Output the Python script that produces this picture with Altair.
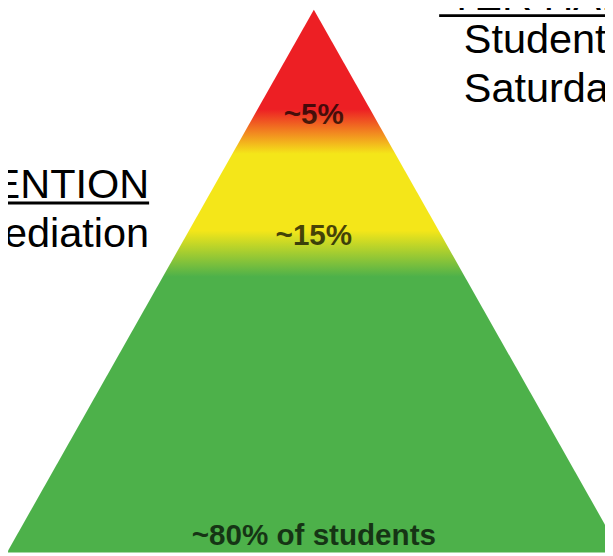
import altair as alt
import numpy as np
import pandas as pd

# ---------------- data ----------------
tier_labels = ["~5%", "~15%", "~80% of students"]   # top -> bottom
tier_shares = [5, 15, 80]                              # percent of students
left_lines = ["ENTION", "ediation"]
right_title = "TER HAI"
right_lines = ["Student", "Saturda"]

# ---------------- styles / layout ----------------
RED, YELLOW, GREEN = "#ed1f24", "#f4e619", "#4db14a"
X_DOMAIN = [-0.997, 0.949]   # pyramid axis at 0, base half-width 1
Y_DOMAIN = [0, 0.9964]       # base at 0, apex at 1
W, H = 605, 548
SIDE_FONT = 42
LABEL_FONT = 30
LABEL_LIFT = 0.03            # label centre above the bottom of its band
EDGE_GREY = "#f5f5f5"

# annotation anchors (data units of the diagram)
LEFT_ANCHOR = {"x": -0.537, "y": [0.6527, 0.5618], "rule_y": 0.6436, "rule_x": -1.05}
RIGHT_ANCHOR = {"x": 0.4887, "title_x": 0.4405, "title_y": 0.9985,
                "y": [0.92, 0.829], "rule_y": 0.989, "rule_x": [0.4084, 1.05]}
FRAME = {"left_x": [-1.03, -0.9968], "top_y": [1.0036, 1.02]}

# ---------------- derived geometry ----------------
cum = np.cumsum(tier_shares) / 100.0
depth = np.sqrt(cum)                 # depth from apex where each band ends (area-proportional)
band_bottom = 1 - depth
b1, b2 = depth[0], depth[1]

stops = [
    alt.GradientStop(color=RED, offset=0),
    alt.GradientStop(color=RED, offset=float(b1 - 0.04)),
    alt.GradientStop(color="#f28a20", offset=float(b1 + 0.004)),
    alt.GradientStop(color=YELLOW, offset=float(b1 + 0.042)),
    alt.GradientStop(color=YELLOW, offset=float(b2 - 0.04)),
    alt.GradientStop(color=GREEN, offset=float(b2 + 0.045)),
    alt.GradientStop(color=GREEN, offset=1),
]
grad = alt.Gradient(gradient="linear", stops=stops, x1=0, x2=0, y1=0, y2=1)

xs = alt.Scale(domain=X_DOMAIN, nice=False, zero=False)
ys = alt.Scale(domain=Y_DOMAIN, nice=False, zero=False)

outline = pd.DataFrame({"x": [-1.0, 0.0, 1.0], "y": [0.0, 1.0, 0.0]})
tri = alt.Chart(outline).mark_area(color=grad, interpolate="linear").encode(
    x=alt.X("x:Q", scale=xs, axis=None),
    y=alt.Y("y:Q", scale=ys, axis=None),
)

frame_df = pd.DataFrame({
    "x": [FRAME["left_x"][0], FRAME["left_x"][0]],
    "x2": [FRAME["left_x"][1], 1.05],
    "y": [0.0, FRAME["top_y"][0]],
    "y2": [FRAME["top_y"][1], FRAME["top_y"][1]],
})
frame = alt.Chart(frame_df).mark_rect(color=EDGE_GREY).encode(
    x=alt.X("x:Q", scale=xs), x2="x2:Q", y=alt.Y("y:Q", scale=ys), y2="y2:Q"
)

labels_df = pd.DataFrame({
    "label": tier_labels,
    "x": [0.0] * len(tier_labels),
    "y": band_bottom + LABEL_LIFT,
})
labels = alt.Chart(labels_df).mark_text(
    font="Liberation Sans", fontSize=LABEL_FONT, fontWeight="bold", color="black", opacity=0.7,
    align="center", baseline="middle"
).encode(x=alt.X("x:Q", scale=xs), y=alt.Y("y:Q", scale=ys), text="label:N")

left_df = pd.DataFrame({"t": left_lines, "x": [LEFT_ANCHOR["x"]] * 2, "y": LEFT_ANCHOR["y"]})
left_txt = alt.Chart(left_df).mark_text(
    font="Liberation Sans", fontSize=SIDE_FONT, color="black", align="right", baseline="alphabetic"
).encode(x=alt.X("x:Q", scale=xs), y=alt.Y("y:Q", scale=ys), text="t:N")

left_rule = alt.Chart(pd.DataFrame({"x": [LEFT_ANCHOR["rule_x"]], "x2": [LEFT_ANCHOR["x"]],
                                    "y": [LEFT_ANCHOR["rule_y"]]})).mark_rule(
    color="black", strokeWidth=3
).encode(x=alt.X("x:Q", scale=xs), x2="x2:Q", y=alt.Y("y:Q", scale=ys))

right_df = pd.DataFrame({"t": [right_title] + right_lines,
                         "x": [RIGHT_ANCHOR["title_x"]] + [RIGHT_ANCHOR["x"]] * 2,
                         "y": [RIGHT_ANCHOR["title_y"]] + RIGHT_ANCHOR["y"]})
right_txt = alt.Chart(right_df).mark_text(
    font="Liberation Sans", fontSize=SIDE_FONT, color="black", align="left", baseline="alphabetic"
).encode(x=alt.X("x:Q", scale=xs), y=alt.Y("y:Q", scale=ys), text="t:N")

right_rule = alt.Chart(pd.DataFrame({"x": [RIGHT_ANCHOR["rule_x"][0]], "x2": [RIGHT_ANCHOR["rule_x"][1]],
                                     "y": [RIGHT_ANCHOR["rule_y"]]})).mark_rule(
    color="black", strokeWidth=3
).encode(x=alt.X("x:Q", scale=xs), x2="x2:Q", y=alt.Y("y:Q", scale=ys))

chart = alt.layer(tri, frame, labels, left_txt, left_rule, right_txt, right_rule).properties(
    width=W, height=H, padding=0, autosize=alt.AutoSizeParams(type="none"), background="white"
).configure_view(stroke=None)

chart.save("out.html", embed_options={"renderer": "svg", "actions": False})
